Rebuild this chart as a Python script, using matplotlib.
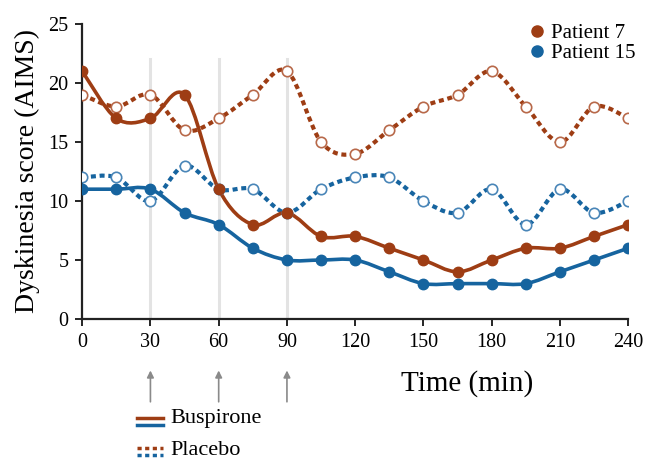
import numpy as np
import matplotlib
matplotlib.use("Agg")
import matplotlib.pyplot as plt
from matplotlib.path import Path
from matplotlib.patches import PathPatch
from matplotlib.lines import Line2D

plt.rcParams['font.family'] = ['Liberation Serif', 'DejaVu Serif']

# time points (min)
time_min = [0, 15, 30, 45, 60, 75, 90, 105, 120, 135, 150, 165, 180, 195, 210, 225, 240]

# AIMS scores
p7_buspirone = [21, 17, 17, 19, 11, 8, 9, 7, 7, 6, 5, 4, 5, 6, 6, 7, 8]
p7_placebo = [19, 18, 19, 16, 17, 19, 21, 15, 14, 16, 18, 19, 21, 18, 15, 18, 17]
p15_buspirone = [11, 11, 11, 9, 8, 6, 5, 5, 5, 4, 3, 3, 3, 3, 4, 5, 6]
p15_placebo = [12, 12, 10, 13, 11, 11, 9, 11, 12, 12, 10, 9, 11, 8, 11, 9, 10]

dose_times = [30, 60, 90]
xticks = [0, 30, 60, 90, 120, 150, 180, 210, 240]
yticks = [0, 5, 10, 15, 20, 25]

brown = '#9e3d14'
blue = '#16649f'
brown_light = '#b8694a'
blue_light = '#4a86b8'


def smooth_path(x, y):
    # catmull-rom through the points, as cubic bezier segments
    x = np.asarray(x, float)
    y = np.asarray(y, float)
    verts = [(x[0], y[0])]
    codes = [Path.MOVETO]
    n = len(x)
    for i in range(n - 1):
        x0, y0 = (x[i - 1], y[i - 1]) if i > 0 else (x[i], y[i])
        x3, y3 = (x[i + 2], y[i + 2]) if i + 2 < n else (x[i + 1], y[i + 1])
        c1 = (x[i] + (x[i + 1] - x0) / 6, y[i] + (y[i + 1] - y0) / 6)
        c2 = (x[i + 1] - (x3 - x[i]) / 6, y[i + 1] - (y3 - y[i]) / 6)
        verts += [c1, c2, (x[i + 1], y[i + 1])]
        codes += [Path.CURVE4] * 3
    return Path(verts, codes)


fig = plt.figure(figsize=(6.47, 4.61), dpi=100)
ax = fig.add_axes([0.127, 0.308, 0.844, 0.64])

for t in dose_times:
    ax.plot([t, t], [0, 22], color='#dcdcdc', lw=2.2, zorder=0, alpha=0.8)

series = [
    (p7_placebo, brown, brown_light, True),
    (p15_placebo, blue, blue_light, True),
    (p7_buspirone, brown, brown, False),
    (p15_buspirone, blue, blue, False),
]
for vals, col, mcol, dotted in series:
    patch = PathPatch(smooth_path(time_min, vals), facecolor='none', edgecolor=col,
                      lw=3 if dotted else 2.6, zorder=2, capstyle='butt')
    if dotted:
        patch.set_linestyle((0, (1.2, 0.9)))
    ax.add_patch(patch)
    if dotted:
        ax.plot(time_min, vals, 'o', ms=7.5, mfc='white', mec=mcol, mew=1.2, ls='none', zorder=3)
    else:
        ax.plot(time_min, vals, 'o', ms=7.5, color=col, ls='none', zorder=3)

ax.set_xlim(0, 240)
ax.set_ylim(0, 25)
ax.set_xticks(xticks)
ax.set_yticks(yticks)
ax.tick_params(labelsize=14.5, length=5, width=1.2, pad=5)
for s in ['top', 'right']:
    ax.spines[s].set_visible(False)
for s in ['left', 'bottom']:
    ax.spines[s].set_linewidth(1.6)
    ax.spines[s].set_color('#222222')
ax.set_ylabel('Dyskinesia score (AIMS)', fontsize=20, labelpad=6)

ax.text(0.705, -0.22, 'Time (min)', transform=ax.transAxes, fontsize=21, ha='center', va='center')

for t in dose_times:
    ax.annotate('', xy=(t, -0.165), xytext=(t, -0.29),
                xycoords=('data', 'axes fraction'), textcoords=('data', 'axes fraction'),
                arrowprops=dict(arrowstyle='-|>', color='#8a8a8a', lw=1.2, mutation_scale=10))

# patient legend
handles = [Line2D([], [], marker='o', color=brown, ls='none', ms=8),
           Line2D([], [], marker='o', color=blue, ls='none', ms=8)]
ax.legend(handles, ['Patient 7', 'Patient 15'], loc='upper right', bbox_to_anchor=(1.04, 1.05),
          frameon=False, fontsize=15, handletextpad=0.15, handlelength=1.0,
          labelspacing=0.0, borderpad=0.2)

# treatment legend (line glyphs in figure coords)
W, H = 647, 461
def fx(px):
    return px / W
def fy(py):
    return 1 - py / H
fig.add_artist(Line2D([fx(137), fx(163)], [fy(418), fy(418)], color=brown, lw=2.5))
fig.add_artist(Line2D([fx(137), fx(163)], [fy(425), fy(425)], color=blue, lw=2.5))
fig.add_artist(Line2D([fx(137), fx(163)], [fy(448), fy(448)], color=brown, lw=2.5, ls=(0, (1.2, 1))))
fig.add_artist(Line2D([fx(137), fx(163)], [fy(455), fy(455)], color=blue, lw=2.5, ls=(0, (1.2, 1))))
fig.text(fx(170), fy(419), 'Buspirone', fontsize=16, va='center')
fig.text(fx(170), fy(450), 'Placebo', fontsize=16, va='center')

fig.savefig('out.png', dpi=100)
